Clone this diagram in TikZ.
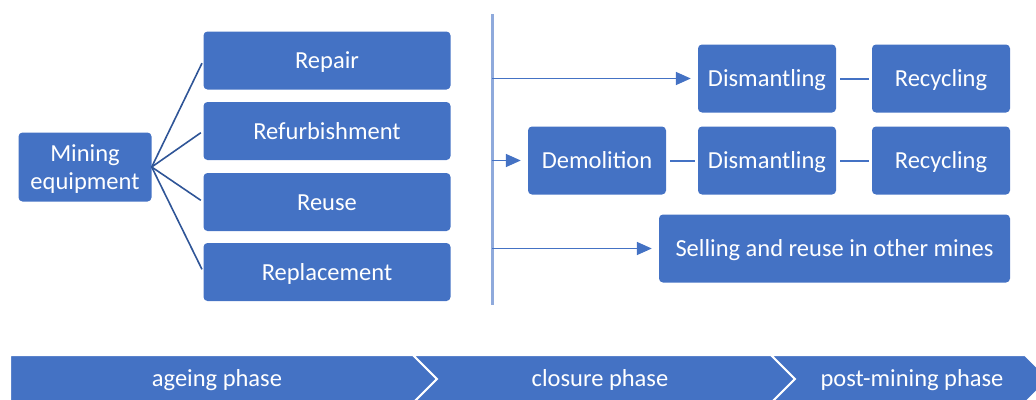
\documentclass[tikz,border=0pt]{standalone}
\usepackage{fontspec}
\setmainfont{Carlito}
\usetikzlibrary{arrows.meta}

\definecolor{boxblue}{HTML}{4472C4}
\definecolor{fanblue}{HTML}{2F5597}
\definecolor{paleblue}{HTML}{8FAADC}

\begin{document}
\begin{tikzpicture}[x=1pt,y=-1pt,
    every node/.style={font=\fontsize{24.5}{28.5}\selectfont,text=white},
    oneline/.style={text height=23.3pt,text depth=6.6pt},
    box/.style={fill=boxblue,rounded corners=4pt,inner sep=0pt,align=center},
    fanline/.style={draw=fanblue,line width=1.6pt,shorten >=3pt},
    arrowline/.style={draw=boxblue,line width=1.6pt,shorten >=7pt,
      -{Triangle[length=15pt,width=13pt]}},
    linkline/.style={draw=boxblue,line width=2pt,shorten <=4pt,shorten >=3pt},
    phase/.style={fill=boxblue,draw=white,line width=2pt,line join=miter}]
    \useasboundingbox (0,0) rectangle (1036,399);
    % equipment and the four ageing options
    \node[box,minimum width=133pt,minimum height=69pt] (mining) at (85,167) {};
    \node[align=center,inner sep=0pt] (mininglabel) at ([yshift=-2pt]mining.center) {Mining\\equipment};
    \foreach \n/\t/\y in {repair/Repair/60.5,refurb/Refurbishment/131,
                          reuse/Reuse/202,replace/Replacement/272}
      \node[box,oneline,minimum width=247pt,minimum height=58pt] (\n) at (327,\y) {\t};
    \foreach \n in {repair,refurb,reuse,replace}
      \draw[fanline] (mining.east) -- (\n.west);
    % divider between the two phases
    \coordinate (vtop) at (492,14);
    \coordinate (vbot) at (492,305);
    \draw[paleblue,line width=3pt] (vtop) -- (vbot);
    % closure routes
    \node[box,oneline,minimum width=138pt,minimum height=68pt] (dis1) at (767,78.5) {Dismantling};
    \node[box,oneline,minimum width=138pt,minimum height=68pt] (rec1) at (941,78.5) {Recycling};
    \node[box,oneline,minimum width=138pt,minimum height=68pt] (demo) at (597,160.5) {Demolition};
    \node[box,oneline,minimum width=138pt,minimum height=68pt] (dis2) at (767,160.5) {Dismantling};
    \node[box,oneline,minimum width=138pt,minimum height=68pt] (rec2) at (941,160.5) {Recycling};
    \node[box,oneline,minimum width=351pt,minimum height=68pt] (sell) at (834.5,248.5) {Selling and reuse in other mines};
    \foreach \n in {dis1,demo,sell}
      \draw[arrowline] (vtop |- \n.west) -- (\n.west);
    \draw[linkline] (dis1.east) -- (rec1.west);
    \draw[linkline] (demo.east) -- (dis2.west);
    \draw[linkline] (dis2.east) -- (rec2.west);
    % phase band
    \begin{scope}
      \clip (0,0) rectangle (1036,399);
      \draw[phase] (10,355) -- (413,355) -- (437,379) -- (413,403) -- (10,403) -- cycle;
      \draw[phase] (413,355) -- (771,355) -- (795,379) -- (771,403) -- (413,403) -- (437,379) -- cycle;
      \draw[phase] (771,355) -- (1025,355) -- (1049,379) -- (1025,403) -- (771,403) -- (795,379) -- cycle;
    \end{scope}
    \node[oneline] (ageing) at (217,378) {ageing phase};
    \node[oneline] (closure) at (600,378) {closure phase};
    \node[oneline] (post) at (912,378) {post-mining phase};
  \end{tikzpicture}
\end{document}
